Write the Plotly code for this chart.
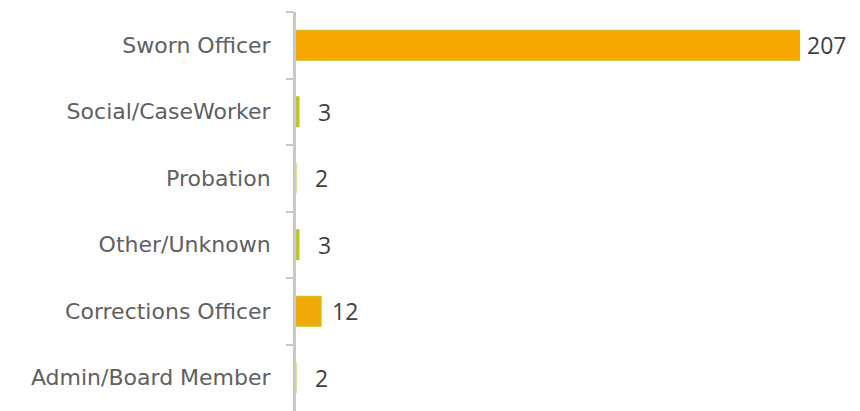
import plotly.graph_objects as go

categories = ["Sworn Officer", "Social/CaseWorker", "Probation", "Other/Unknown",
              "Corrections Officer", "Admin/Board Member"]
values = [207, 3, 2, 3, 12, 2]

# styling (one entry per bar / label)
bar_fill = ["#F5A700", "#BCC62B", "#DCE29A", "#BCC62B", "#EFA908", "#DCE29A"]
bar_edge = ["#D6B824", "#BCC62B", "#DCE29A", "#BCC62B", "#D8BA1E", "#DCE29A"]
label_shift = [5, 17, 17, 17, 9, 17]

fig = go.Figure(go.Bar(
    x=values, y=categories, orientation="h",
    marker=dict(color=bar_fill, line=dict(color=bar_edge, width=1.2)),
    width=0.45, hoverinfo="x+y",
))

for c, v, s in zip(categories, values, label_shift):
    fig.add_annotation(
        x=v, y=c, text=str(v), showarrow=False, xanchor="left", xshift=s,
        font=dict(family="Open Sans, DejaVu Sans, sans-serif", size=23, color="#404040"),
    )

# page body has an 8px default margin, so the figure is sized to fit the 860x411 window
fig.update_layout(
    width=852, height=403,
    margin=dict(l=288, r=60, t=4, b=0),
    plot_bgcolor="white", paper_bgcolor="white",
    showlegend=False,
)
fig.update_yaxes(
    categoryorder="array", categoryarray=categories, autorange="reversed",
    showline=True, linecolor="#C8C8C8", linewidth=3,
    ticks="outside", tickson="boundaries", ticklen=7, tickwidth=2, tickcolor="#C8C8C8",
    tickfont=dict(family="DejaVu Sans, sans-serif", size=22, color="#606060"),
    showgrid=False, ticklabelstandoff=18, automargin=False,
)
fig.update_xaxes(range=[1.8, 207], visible=False, showgrid=False, zeroline=False)

fig.write_html("out.html")
